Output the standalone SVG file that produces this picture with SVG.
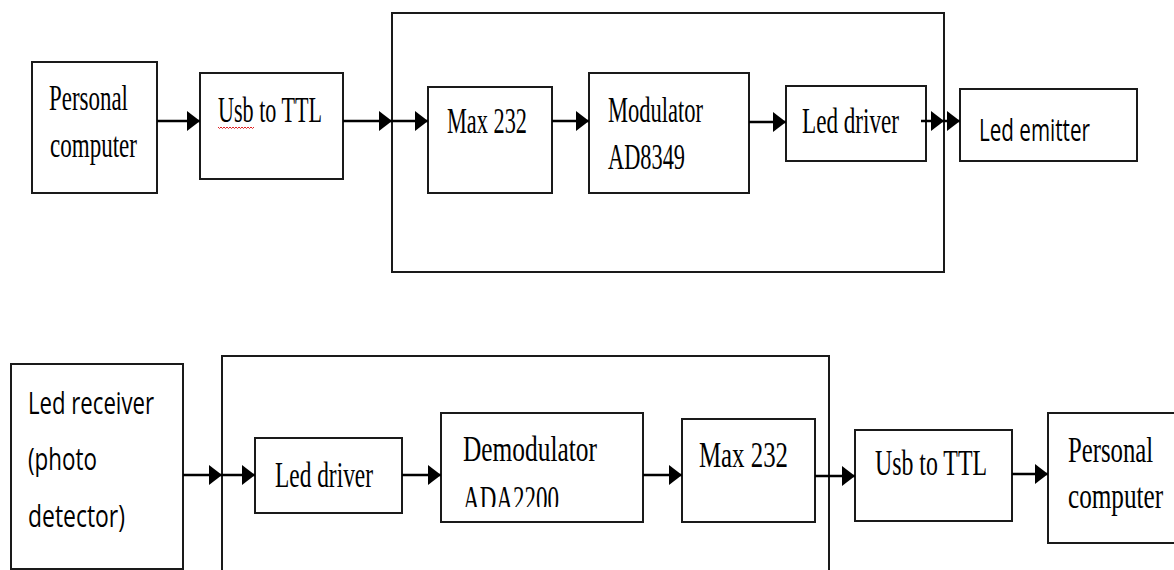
<svg xmlns="http://www.w3.org/2000/svg" width="1174" height="570" viewBox="0 0 1174 570">
<style>
.box{fill:#fff;stroke:#1a1a1a;stroke-width:2}
.cont{fill:none;stroke:#1a1a1a;stroke-width:2}
.ser{font-family:"Liberation Serif","Times New Roman",serif;font-size:35px;fill:#000}
.san{font-family:"Open Sans","Liberation Sans",sans-serif;font-size:31px;fill:#000}
.con line{stroke:#000;stroke-width:2.5;marker-end:url(#ah)}
</style>
<defs>
<marker id="ah" markerUnits="userSpaceOnUse" markerWidth="14" markerHeight="20" refX="13" refY="10" orient="auto">
<path d="M0,0 L13,10 L0,20 z" fill="#000"/>
</marker>
<clipPath id="clipAda"><rect x="440" y="470" width="200" height="37"/></clipPath>
</defs>
<rect width="1174" height="570" fill="#fff"/>

<g id="tx-container"><rect class="cont" x="392" y="13" width="552" height="259"/></g>
<g id="rx-container"><path class="cont" d="M222,570 V356 H829 V570"/></g>

<g id="pc1"><rect class="box" x="32" y="62" width="125" height="131"/>
<text class="ser" x="49" y="110" textLength="79" lengthAdjust="spacingAndGlyphs">Personal</text>
<text class="ser" x="50" y="157" textLength="87" lengthAdjust="spacingAndGlyphs">computer</text></g>

<g id="usb1"><rect class="box" x="200" y="73" width="143" height="106"/>
<text class="ser" x="218" y="122" textLength="104" lengthAdjust="spacingAndGlyphs">Usb to TTL</text>
<path d="M218,127 l1.5,1.5 l1.5,-1.5 l1.5,1.5 l1.5,-1.5 l1.5,1.5 l1.5,-1.5 l1.5,1.5 l1.5,-1.5 l1.5,1.5 l1.5,-1.5 l1.5,1.5 l1.5,-1.5 l1.5,1.5 l1.5,-1.5 l1.5,1.5 l1.5,-1.5 l1.5,1.5 l1.5,-1.5 l1.5,1.5 l1.5,-1.5 l1.5,1.5 l1.5,-1.5 l1.5,1.5 l1.5,-1.5" fill="none" stroke="#e02020" stroke-width="1"/></g>

<g id="max1"><rect class="box" x="428" y="87" width="124" height="106"/>
<text class="ser" x="447" y="133" textLength="80" lengthAdjust="spacingAndGlyphs">Max 232</text></g>

<g id="mod"><rect class="box" x="589" y="73" width="160" height="120"/>
<text class="ser" x="608" y="122" textLength="95" lengthAdjust="spacingAndGlyphs">Modulator</text>
<text class="ser" x="608" y="169" textLength="77" lengthAdjust="spacingAndGlyphs">AD8349</text></g>

<g id="ledd1"><rect class="box" x="786" y="86" width="140" height="75"/>
<text class="ser" x="802" y="133" textLength="97" lengthAdjust="spacingAndGlyphs">Led driver</text></g>

<g id="lede"><rect class="box" x="960" y="89" width="177" height="72"/>
<text class="san" x="979" y="141" textLength="111" lengthAdjust="spacingAndGlyphs">Led emitter</text></g>

<g id="ledr"><rect class="box" x="11" y="364" width="172" height="205"/>
<text class="san" x="28" y="414" textLength="126" lengthAdjust="spacingAndGlyphs">Led receiver</text>
<text class="san" x="28" y="470" textLength="69" lengthAdjust="spacingAndGlyphs">(photo</text>
<text class="san" x="28" y="527" textLength="97" lengthAdjust="spacingAndGlyphs">detector)</text></g>

<g id="ledd2"><rect class="box" x="255" y="438" width="147" height="75"/>
<text class="ser" x="275" y="487" textLength="98" lengthAdjust="spacingAndGlyphs">Led driver</text></g>

<g id="demod"><rect class="box" x="441" y="413" width="202" height="109"/>
<text class="ser" x="463" y="461" textLength="134" lengthAdjust="spacingAndGlyphs">Demodulator</text>
<text class="ser" x="463" y="511" textLength="96" lengthAdjust="spacingAndGlyphs" clip-path="url(#clipAda)">ADA2200</text></g>

<g id="max2"><rect class="box" x="682" y="419" width="133" height="103"/>
<text class="ser" x="699" y="467" textLength="89" lengthAdjust="spacingAndGlyphs">Max 232</text></g>

<g id="usb2"><rect class="box" x="855" y="430" width="157" height="91"/>
<text class="ser" x="875" y="475" textLength="112" lengthAdjust="spacingAndGlyphs">Usb to TTL</text></g>

<g id="pc2"><path class="box" d="M1175,413 H1048 V543 H1175"/>
<text class="ser" transform="translate(1068,462) scale(0.71,1)" x="0" y="0" textLength="120" lengthAdjust="spacingAndGlyphs">Personal</text>
<text class="ser" transform="translate(1068,508) scale(0.71,1)" x="0" y="0" textLength="134" lengthAdjust="spacingAndGlyphs">computer</text></g>

<g id="connectors" class="con">
<line x1="157" y1="121" x2="200" y2="121"/>
<line x1="343" y1="121" x2="392" y2="121"/>
<line x1="392" y1="121" x2="428" y2="121"/>
<line x1="552" y1="121" x2="589" y2="121"/>
<line x1="749" y1="122" x2="786" y2="122"/>
<line x1="921" y1="121" x2="944" y2="121"/>
<line x1="944" y1="121" x2="960" y2="121"/>
<line x1="183" y1="475" x2="222" y2="475"/>
<line x1="222" y1="475" x2="255" y2="475"/>
<line x1="402" y1="475" x2="441" y2="475"/>
<line x1="643" y1="475" x2="682" y2="475"/>
<line x1="815" y1="476" x2="855" y2="476"/>
<line x1="1012" y1="474" x2="1048" y2="474"/>
</g>
</svg>
